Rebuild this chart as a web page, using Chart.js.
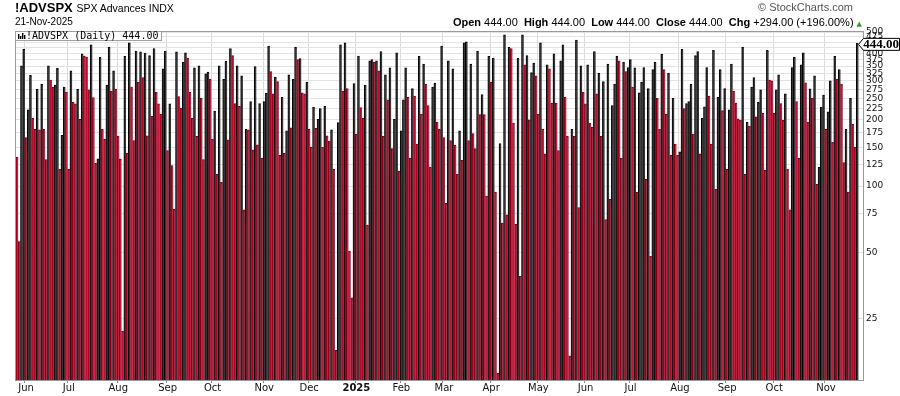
<!DOCTYPE html>
<html>
<head>
<meta charset="utf-8">
<script src="https://cdn.jsdelivr.net/npm/chart.js@4.4.1/dist/chart.umd.min.js"></script>
<style>
body{margin:0;background:#fff;}
#caja{position:relative;width:900px;height:396px;font-family:"Liberation Sans",Arial,sans-serif;color:#000;overflow:hidden;}
#grafico{position:absolute;left:0;top:0;}
.txt{position:absolute;white-space:nowrap;line-height:1;}
.txt b{font-weight:bold;}
</style>
</head>
<body>
<div id="caja">
<canvas id="grafico" width="900" height="396"></canvas>
<div class="txt" style="left:15px;top:1px;font-size:13px;font-weight:bold">!ADVSPX <span style="font-weight:normal;font-size:10.5px">SPX Advances INDX</span></div>
<div class="txt" style="left:15px;top:17px;font-size:10px">21-Nov-2025</div>
<div class="txt" style="right:47px;top:2px;font-size:11px;color:#555">&copy; StockCharts.com</div>
<div class="txt" style="right:38px;top:17px;font-size:11px"><b>Open</b> 444.00 &nbsp;<b>High</b> 444.00 &nbsp;<b>Low</b> 444.00 &nbsp;<b>Close</b> 444.00 &nbsp;<b>Chg</b> +294.00 (+196.00%) <span style="color:#2f9a2f;font-size:7px;font-family:'DejaVu Sans'">&#9650;</span></div>
</div>
<script>
// advances diarios del SPX, 28-May-2024 .. 21-Nov-2025
const valores = [
135,56,351,417,166,222,318,203,181,275,
180,290,181,132,351,303,281,287,342,119,
170,281,267,119,333,240,236,275,201,398,
389,385,273,437,252,127,133,384,
181,163,287,426,270,333,275,168,133,22,
388,141,446,281,161,410,296,406,311,401,
169,391,207,421,266,236,212,340,410,145,
236,124,78.5,406,255,226,365,402,
381,266,203,344,168,351,250,132,323,329,
305,163,219,113,351,104,305,368,162,421,
391,237,351,230,316,78,181,180,242,146,
348,154,237,134,242,264,432,331,262,312,
298,138,253,141,178,320,184,305,426,375,
379,265,262,296,181,150,228,183,201,225,
150,230,169,160,180,119,18,194,437,270,
446,277,50.7,31.1,292,172,389,227,203,
287,66.5,370,375,364,370,333,408,168,320,
246,344,148,201,402,117,178,246,344,253,
134,277,256,155,388,212,358,290,232,122,
281,293,195,181,432,166,83.5,370,161,
340,153,113,178,131,446,451,161,358,173,
148,410,211,260,211,90,388,296,381,94,
14.2,156,68,485,74,426,421,193,67,380,
39,485,355,391,200,327,361,316,212,
446,181,140,355,340,238,398,238,145,370,
437,253,168,17,181,168,460,80,351,266,
236,355,193,185,408,262,325,168,298,70.5,
358,87,232,290,389,370,134,365,331,
345,375,281,344,93.6,265,296,345,107.6,277,
48,338,365,250,181,397,338,212,325,138,
250,155,138,143,417,225,237,242,290,172,
391,408,140,203,229,345,256,155,413,97,
253,338,220,277,119,222,358,270,238,202,
199,426,113,195,187,281,311,206,240,273,
214,118,413,303,300,214,273,320,237,199,
262,119,78,345,384,242,134,355,402,
294,195,276,250,316,102,122,228,259,181,
217,300,158,388,306,338,290,128,181,94,
250,191,150,444
];
const marcasY = [25,50,75,100,125,150,175,200,225,250,275,300,325,350,375,400,425,450,475,500];
const meses = ["Jan","Feb","Mar","Apr","May","Jun","Jul","Aug","Sep","Oct","Nov","Dec"];
const feriados = ["2024-06-19","2024-07-04","2024-09-02","2024-11-28","2024-12-25","2025-01-01","2025-01-09",
"2025-01-20","2025-02-17","2025-04-18","2025-05-26","2025-06-19","2025-07-04","2025-09-01"];
const huecos = 2; // espacio vacio a la derecha
const ultimo = 444.00;

function generarFechas(inicio, n){
    let out = [];
    let d = new Date(inicio + "T12:00:00Z");
    while(out.length < n){
        let dia = d.getUTCDay();
        let iso = d.toISOString().slice(0,10);
        if(dia != 0 && dia != 6 && !feriados.includes(iso)){
            out.push(iso);
        }
        d.setUTCDate(d.getUTCDate()+1);
    }
    return out;
}

const fechas = generarFechas("2024-05-28", valores.length + huecos);
const inicioMes = new Map();
for(let i=1;i<fechas.length;i++){
    if(fechas[i].slice(5,7) != fechas[i-1].slice(5,7)){
        let m = parseInt(fechas[i].slice(5,7)) - 1;
        inicioMes.set(i, m == 0 ? fechas[i].slice(0,4) : meses[m]);
    }
}

let relleno = [], borde = [];
for(let i=0;i<valores.length;i++){
    if(i > 0 && valores[i] >= valores[i-1]){
        relleno.push("#363636");
        borde.push("#000000");
    }else{
        relleno.push("#dc143c");
        borde.push("#6e0418");
    }
}

const marco = {
    id: "marco",
    afterDatasetsDraw(chart){
        const c = chart.ctx;
        const a = chart.chartArea;
        c.save();
        c.strokeStyle = "#9a9a9a";
        c.lineWidth = 1;
        c.strokeRect(a.left - 0.5, a.top - 0.5, a.right - a.left + 1, a.bottom - a.top + 1);

        // leyenda dentro del grafico
        c.fillStyle = "#fff";
        c.fillRect(a.left, a.top, 146, 8);
        c.strokeStyle = "#a0a0a0";
        c.strokeRect(a.left - 0.5, a.top - 0.5, 146, 9);
        c.fillStyle = "#000";
        let ix = a.left + 2;
        [5,3,6,4].forEach((h,k) => c.fillRect(ix + k*2, a.top + 7 - h, 1.4, h));
        c.font = "10px 'DejaVu Sans Mono'";
        c.textBaseline = "alphabetic";
        c.fillText("!ADVSPX (Daily) " + ultimo.toFixed(2), a.left + 10, a.top + 7);

        // etiqueta del ultimo valor
        const y = chart.scales.y.getPixelForValue(ultimo) + 1;
        c.beginPath();
        c.moveTo(a.right - 4.5, y);
        c.lineTo(a.right + 0.5, y - 6);
        c.lineTo(899.5, y - 6);
        c.lineTo(899.5, y + 6);
        c.lineTo(a.right + 0.5, y + 6);
        c.closePath();
        c.fillStyle = "#fff";
        c.fill();
        c.strokeStyle = "#000";
        c.stroke();
        c.fillStyle = "#000";
        c.font = "bold 13px 'Liberation Serif'";
        c.textAlign = "center";
        c.textBaseline = "middle";
        c.fillText(ultimo.toFixed(2), 881, y + 0.5);
        c.restore();
    }
};

const ctx = document.getElementById("grafico").getContext("2d");
const grafico = new Chart(ctx, {
    type: "bar",
    data: {
        labels: fechas,
        datasets: [{
            data: valores.concat(new Array(huecos).fill(null)),
            backgroundColor: relleno,
            borderColor: borde,
            borderWidth: {left: 1, top: 1, right: 0, bottom: 0},
            borderSkipped: "start",
            barPercentage: 1,
            categoryPercentage: 1
        }]
    },
    options: {
        responsive: false,
        animation: false,
        layout: { padding: { left: 16, top: 32, right: 0, bottom: 0 } },
        plugins: {
            legend: { display: false },
            tooltip: { enabled: false }
        },
        scales: {
            x: {
                grid: {
                    offset: true,
                    color: (c) => inicioMes.has(c.index) ? "#dadada" : "rgba(0,0,0,0)",
                    tickColor: (c) => inicioMes.has(c.index) ? "#888" : "rgba(0,0,0,0)",
                    tickLength: 3
                },
                border: { color: "#9a9a9a" },
                ticks: {
                    autoSkip: false,
                    maxRotation: 0,
                    padding: -1,
                    color: "#111",
                    font: (c) => ({ family: "DejaVu Sans", size: 10, weight: (c.tick && c.tick.label == "2025") ? "bold" : "normal" }),
                    callback: (v, i) => inicioMes.has(i) ? inicioMes.get(i) : ""
                },
                afterFit: (s) => { s.height = 16; }
            },
            y: {
                type: "logarithmic",
                position: "right",
                min: 13.2,
                max: 500,
                afterBuildTicks: (s) => { s.ticks = marcasY.map(v => ({ value: v })); },
                grid: { color: "#e3e3e3", drawTicks: false },
                border: { color: "#9a9a9a" },
                ticks: {
                    autoSkip: false,
                    padding: 3,
                    color: "#111",
                    font: { family: "DejaVu Sans", size: 9 },
                    callback: (v) => String(v)
                },
                afterFit: (s) => { s.width = 37; }
            }
        }
    },
    plugins: [marco]
});
</script>
</body>
</html>
